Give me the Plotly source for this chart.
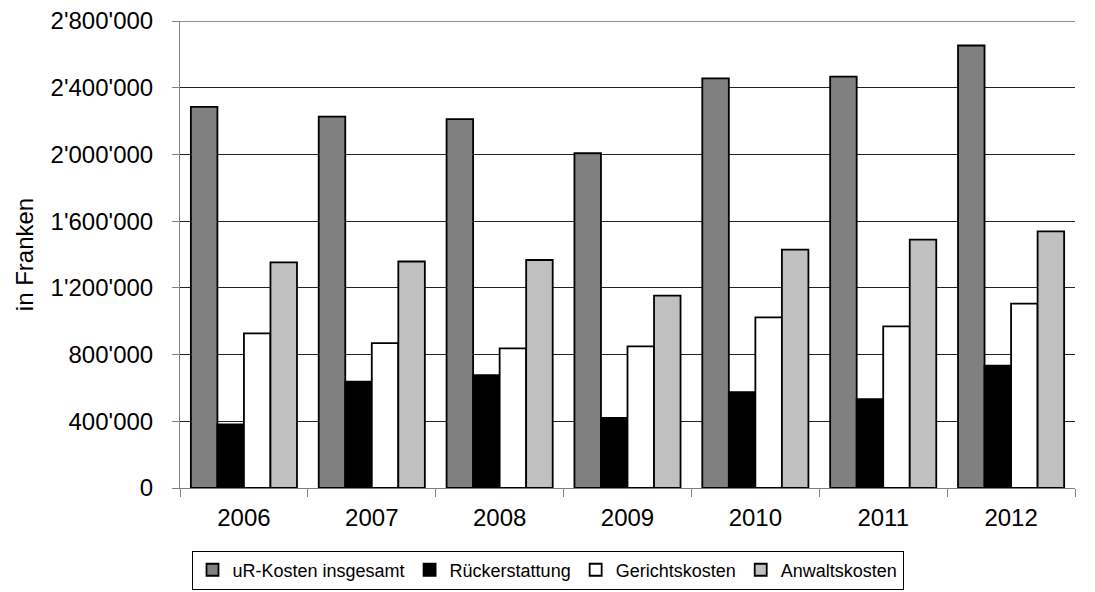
import plotly.graph_objects as go

years = ["2006", "2007", "2008", "2009", "2010", "2011", "2012"]
ur_kosten = [2285000, 2227000, 2212000, 2007000, 2456000, 2466000, 2653000]
rueckerstattung = [381000, 638000, 676000, 421000, 574000, 532000, 733000]
gerichtskosten = [927000, 869000, 837000, 849000, 1023000, 969000, 1106000]
anwaltskosten = [1353000, 1358000, 1367000, 1154000, 1429000, 1489000, 1539000]
y_ticks = [0, 400000, 800000, 1200000, 1600000, 2000000, 2400000, 2800000]
y_labels = ["0", "400'000", "800'000", "1'200'000", "1'600'000", "2'000'000", "2'400'000", "2'800'000"]

series = [
    ("uR-Kosten insgesamt", ur_kosten, "#808080"),
    ("Rückerstattung", rueckerstattung, "#000000"),
    ("Gerichtskosten", gerichtskosten, "#ffffff"),
    ("Anwaltskosten", anwaltskosten, "#c0c0c0"),
]

fig = go.Figure()
for name, vals, col in series:
    fig.add_trace(go.Bar(
        x=years, y=vals, name=name,
        marker=dict(color=col, line=dict(color="#000000", width=1.8)),
    ))

# top gridline (plotly omits gridlines lying on the plot edge)
fig.add_shape(type="line", xref="paper", x0=0, x1=1, yref="y",
              y0=y_ticks[-1], y1=y_ticks[-1],
              line=dict(color="#222222", width=1), layer="below")

fig.update_layout(
    width=1095, height=592,
    margin=dict(l=180, r=20, t=21, b=104, autoexpand=False),
    paper_bgcolor="white", plot_bgcolor="white",
    barmode="group", bargap=0.17, bargroupgap=0,
    font=dict(family="Liberation Sans, Arial, sans-serif", size=24, color="#000000"),
    showlegend=True,
    legend=dict(
        orientation="h", xref="container", x=0.5, xanchor="center",
        yref="container", y=0.07, yanchor="top",
        bordercolor="#000000", borderwidth=1,
        font=dict(size=18), itemwidth=30, traceorder="normal",
    ),
    xaxis=dict(
        showline=True, linecolor="#808080", linewidth=1,
        ticks="outside", tickson="boundaries", ticklen=8, tickcolor="#808080",
        showgrid=False, tickfont=dict(size=24), ticklabelstandoff=8,
        automargin=False,
    ),
    yaxis=dict(
        range=[0, 2800000], tickvals=y_ticks, ticktext=y_labels,
        showline=True, linecolor="#808080", linewidth=1,
        ticks="outside", ticklen=7, tickcolor="#808080",
        showgrid=True, gridcolor="#222222", gridwidth=1,
        zeroline=False, ticklabelstandoff=14,
        title=dict(text="in Franken", font=dict(size=24), standoff=10),
        tickfont=dict(size=24), automargin=False,
    ),
)

fig.write_html("out.html", config={"displayModeBar": False},
               post_script="document.body.style.margin='0';")
